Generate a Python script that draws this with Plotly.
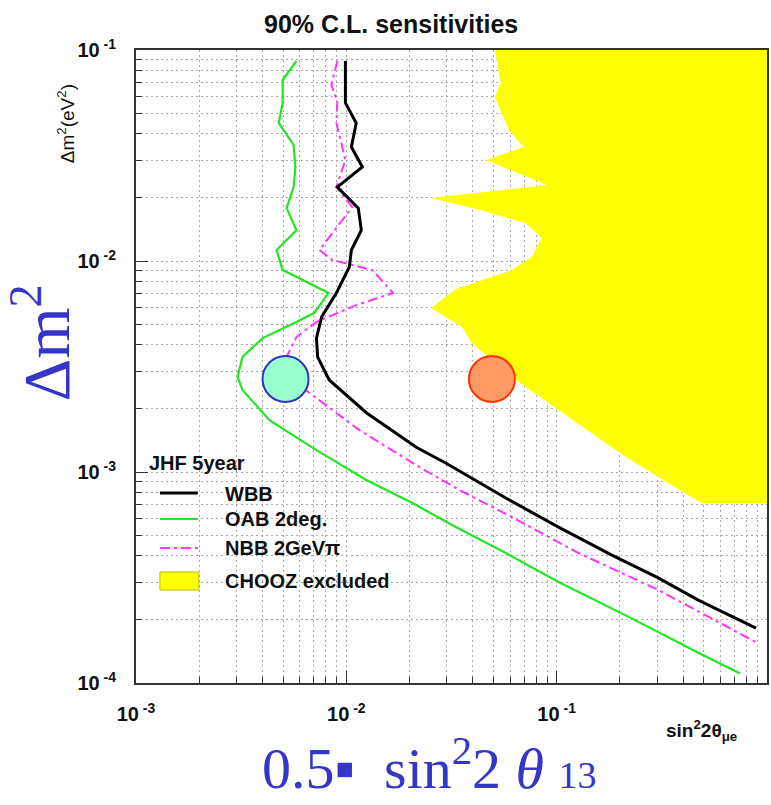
import plotly.graph_objects as go

# ---- data ----
wbb_x = [0.00990, 0.00990, 0.01114, 0.01057, 0.01192, 0.00906, 0.0114, 0.01178, 0.01057, 0.01033,
         0.00897, 0.00763, 0.00721, 0.00730, 0.00829, 0.01245, 0.0215, 0.0298, 0.0573, 0.102,
         0.182, 0.304, 0.471, 0.887]
wbb_y = [0.0887, 0.0561, 0.0451, 0.0347, 0.0279, 0.0224, 0.0178, 0.0140, 0.01127, 0.00937,
         0.00705, 0.00543, 0.00431, 0.00351, 0.00273, 0.00191, 0.00131, 0.00110, 0.000753, 0.000548,
         0.000405, 0.000315, 0.000247, 0.000182]

oab_x = [0.00579, 0.00498, 0.00498, 0.00477, 0.00561, 0.00573, 0.00561, 0.00520, 0.00579, 0.00466,
         0.00498, 0.00822, 0.00705, 0.00579, 0.00400, 0.00321, 0.00304, 0.00321, 0.00431, 0.00721,
         0.01245, 0.0206, 0.0318, 0.0573, 0.102, 0.226, 0.471, 0.745]
oab_y = [0.0887, 0.0721, 0.0561, 0.0451, 0.0355, 0.0279, 0.0224, 0.0178, 0.0140, 0.01127,
         0.00906, 0.00705, 0.00568, 0.00514, 0.00431, 0.00351, 0.00282, 0.00245, 0.00176, 0.00127,
         0.000916, 0.000713, 0.000561, 0.000413, 0.000301, 0.000203, 0.000139, 0.000111]

nbb_x = [0.00906, 0.00849, 0.00906, 0.00897, 0.00990, 0.00897, 0.01067, 0.00745, 0.00859, 0.01327,
         0.0167, 0.01114, 0.00721, 0.00579, 0.00525, 0.00568, 0.00668, 0.01153, 0.0222, 0.0344,
         0.0612, 0.127, 0.304, 0.543, 0.887]
nbb_y = [0.0887, 0.0683, 0.0568, 0.0451, 0.0301, 0.0224, 0.0180, 0.01127, 0.01011, 0.00906,
         0.00705, 0.00618, 0.00514, 0.00436, 0.00359, 0.00273, 0.00237, 0.00158, 0.001057, 0.000822,
         0.000612, 0.000413, 0.000276, 0.000203, 0.000156]

chooz_x = [0.0508, 0.0543, 0.0508, 0.0593, 0.0698, 0.0461, 0.0898, 0.0253, 0.0427, 0.0713,
           0.0849, 0.0762, 0.0612, 0.0332, 0.0253, 0.0355, 0.0395, 0.0640, 0.114, 0.212,
           0.486, 1.0, 1.0]
chooz_y = [0.1, 0.0698, 0.0598, 0.0418, 0.0347, 0.0301, 0.0229, 0.0199, 0.0175, 0.0151,
           0.01285, 0.01045, 0.00906, 0.00736, 0.00598, 0.00486, 0.00408, 0.00273, 0.00182, 0.00118,
           0.000713, 0.000713, 0.1]

point_x = [0.00514, 0.0492]
point_y = [0.00276, 0.00276]
point_fill = ["#99ffcc", "#ff9966"]
point_edge = ["#3333bb", "#ff3300"]

x_major = [0.001, 0.01, 0.1, 1]
x_major_text = ["10<sup> -3</sup>", "10<sup> -2</sup>", "10<sup> -1</sup>", "1"]
y_major = [0.0001, 0.001, 0.01, 0.1]
y_major_text = ["10<sup> -4</sup>", "10<sup> -3</sup>", "10<sup> -2</sup>", "10<sup> -1</sup>"]
x_minor = [d * 10.0 ** k for k in (-3, -2, -1) for d in range(2, 10)]
y_minor = [d * 10.0 ** k for k in (-4, -3, -2) for d in range(2, 10)]

GREEN = "#22e622"
MAGENTA = "#ff33ff"
BLUE_TXT = "#3535c8"
FONT = "Liberation Sans, Arial, sans-serif"
SERIF = "Liberation Serif, Times New Roman, serif"

fig = go.Figure()

fig.add_trace(go.Scatter(x=chooz_x, y=chooz_y, mode="lines", fill="toself",
                         fillcolor="#ffff00", line=dict(width=0, color="#ffff00"),
                         showlegend=False, hoverinfo="skip"))
fig.add_trace(go.Scatter(x=oab_x, y=oab_y, mode="lines",
                         line=dict(color=GREEN, width=2.2), showlegend=False))
fig.add_trace(go.Scatter(x=nbb_x, y=nbb_y, mode="lines",
                         line=dict(color=MAGENTA, width=2, dash="10px,4px,3px,4px"), showlegend=False))
fig.add_trace(go.Scatter(x=wbb_x, y=wbb_y, mode="lines",
                         line=dict(color="black", width=3), showlegend=False))
fig.add_trace(go.Scatter(x=point_x, y=point_y, mode="markers",
                         marker=dict(size=46, color=point_fill,
                                     line=dict(color=point_edge, width=2)),
                         showlegend=False))

grid_common = dict(showgrid=True, gridcolor="#a8a8a8", gridwidth=1, griddash="2px,3px")

fig.update_xaxes(type="log", range=[-3, 0], tickmode="array", tickvals=x_major, ticktext=x_major_text,
                 ticks="inside", ticklen=12, tickwidth=1, tickcolor="#333",
                 showline=True, linecolor="#333", linewidth=2, mirror=True,
                 tickfont=dict(family=FONT, size=20, color="#111", weight="bold"),
                 ticklabelstandoff=12, zeroline=False,
                 minor=dict(tickmode="array", tickvals=x_minor, ticks="inside", ticklen=6,
                            tickcolor="#333", **grid_common),
                 **grid_common)
fig.update_yaxes(type="log", range=[-4, -1], tickmode="array", tickvals=y_major, ticktext=y_major_text,
                 ticks="inside", ticklen=12, tickwidth=1, tickcolor="#333",
                 showline=True, linecolor="#333", linewidth=2, mirror=True,
                 tickfont=dict(family=FONT, size=20, color="#111", weight="bold"),
                 ticklabelstandoff=14, zeroline=False,
                 minor=dict(tickmode="array", tickvals=y_minor, ticks="inside", ticklen=6,
                            tickcolor="#333", **grid_common),
                 **grid_common)

L, R, T, B = 136, 2, 50, 122
W, H = 771, 805
PW, PH = W - L - R, H - T - B


def px(xpix):
    return (xpix - L) / PW


def py(ypix):
    return 1 - (ypix - T) / PH


annotations = [
    dict(text="<b>90% C.L. sensitivities</b>", x=px(392), y=py(24),
         font=dict(size=25, family=FONT, color="#111")),
    dict(text="Δm<sup>2</sup>(eV<sup>2</sup>)", x=px(66), y=py(124), textangle=-90,
         font=dict(size=19, family=FONT, color="#111")),
    dict(text="<b>sin<sup>2</sup>2θ<sub>μe</sub></b>", x=px(703), y=py(730),
         font=dict(size=19, family=FONT, color="#111")),
    dict(text="Δm<sup>2</sup>", x=px(41), y=py(343), textangle=-90,
         font=dict(size=66, family=SERIF, color=BLUE_TXT)),
    dict(text="0.5▪  sin<sup>2</sup>2 <i>θ</i> <span style='font-size:38px'>13</span>",
         x=px(430), y=py(803), yanchor="bottom",
         font=dict(size=58, family=SERIF, color=BLUE_TXT)),
    dict(text="<b>JHF 5year</b>", x=px(147), y=py(463), xanchor="left",
         font=dict(size=20, family=FONT, color="#111")),
]
legend_rows = [("WBB", 494), ("OAB 2deg.", 519), ("NBB 2GeVπ", 548), ("CHOOZ excluded", 581)]
for name, ypix in legend_rows:
    annotations.append(dict(text="<b>%s</b>" % name, x=px(223), y=py(ypix), xanchor="left",
                            font=dict(size=20, family=FONT, color="#111")))
for a in annotations:
    a.setdefault("xref", "paper")
    a.setdefault("yref", "paper")
    a.setdefault("showarrow", False)
    a.setdefault("xanchor", "center")
    a.setdefault("yanchor", "middle")

shapes = [
    dict(type="line", x0=px(160), x1=px(198), y0=py(493), y1=py(493), line=dict(color="black", width=3)),
    dict(type="line", x0=px(160), x1=px(198), y0=py(519), y1=py(519), line=dict(color=GREEN, width=2.2)),
    dict(type="line", x0=px(160), x1=px(198), y0=py(548), y1=py(548),
         line=dict(color=MAGENTA, width=2, dash="10px,4px,3px,4px")),
    dict(type="rect", x0=px(160), x1=px(199), y0=py(590), y1=py(572),
         line=dict(color="#bbbb00", width=1), fillcolor="#ffff00"),
]
for s in shapes:
    s["xref"] = "paper"
    s["yref"] = "paper"

fig.update_layout(width=W, height=H, margin=dict(l=L, r=R, t=T, b=B),
                  paper_bgcolor="white", plot_bgcolor="white",
                  annotations=annotations, shapes=shapes, showlegend=False)

fig.write_html("out.html")
